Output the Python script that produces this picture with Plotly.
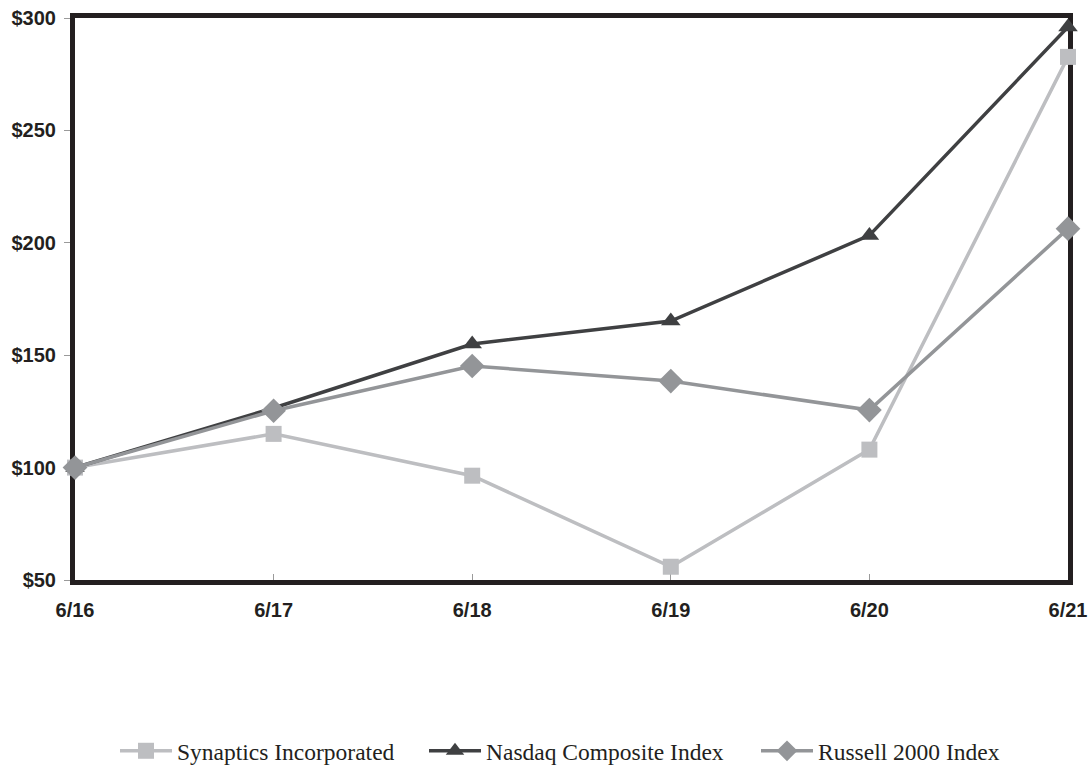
import plotly.graph_objects as go

# Fiscal year-end labels and cumulative total return values ($100 invested 6/16)
periods = ["6/16", "6/17", "6/18", "6/19", "6/20", "6/21"]
synaptics = [100.0, 115.0, 96.4, 55.9, 108.0, 282.7]
nasdaq = [100.0, 126.5, 155.0, 165.2, 203.3, 296.0]
russell = [100.0, 125.3, 145.2, 138.5, 125.6, 206.3]

y_ticks = [50, 100, 150, 200, 250, 300]
y_tick_text = ["$50", "$100", "$150", "$200", "$250", "$300"]

# name, values, colour, marker symbol, marker size, legend id, legend left edge (px)
series = [
    ("Synaptics Incorporated", synaptics, "#BDBEC1", "square", 16, "legend", 115),
    ("Nasdaq Composite Index", nasdaq, "#3F4042", "triangle-up", 17, "legend2", 424),
    ("Russell 2000 Index", russell, "#939598", "diamond", 19, "legend3", 756),
]

W, H = 1091, 773

fig = go.Figure()
legend_layouts = {}
for name, vals, color, symbol, msize, leg, left_px in series:
    fig.add_trace(go.Scatter(
        x=list(range(len(periods))),
        y=vals,
        name=name,
        mode="lines+markers",
        line=dict(color=color, width=3.5),
        marker=dict(symbol=symbol, size=msize, color=color),
        cliponaxis=False,
        legend=leg,
    ))
    legend_layouts[leg] = dict(
        orientation="h",
        xref="container",
        yref="container",
        x=left_px / W,
        xanchor="left",
        y=-0.007,
        yanchor="bottom",
        font=dict(family="Liberation Serif", size=23.5, color="#231F20"),
        itemwidth=52,
        bgcolor="rgba(0,0,0,0)",
    )

frame = "#231F20"
tick_font = dict(family="Liberation Sans", size=20, color="#231F20", weight="bold")
fig.update_layout(
    width=W,
    height=H,
    margin=dict(l=75, r=23, t=18, b=193, autoexpand=False),
    plot_bgcolor="white",
    paper_bgcolor="white",
    showlegend=True,
    xaxis=dict(
        range=[0, 5],
        tickmode="array",
        tickvals=list(range(len(periods))),
        ticktext=periods,
        showgrid=False,
        zeroline=False,
        showline=True,
        mirror=True,
        linecolor=frame,
        linewidth=5,
        ticks="inside",
        ticklen=6,
        tickcolor="#9A9A9A",
        tickwidth=1,
        layer="below traces",
        automargin=False,
        tickfont=tick_font,
        ticklabelstandoff=8,
    ),
    yaxis=dict(
        range=[50, 300],
        tickmode="array",
        tickvals=y_ticks,
        ticktext=y_tick_text,
        showgrid=False,
        zeroline=False,
        showline=True,
        mirror=True,
        linecolor=frame,
        linewidth=5,
        ticks="outside",
        ticklen=6,
        tickcolor="#9A9A9A",
        tickwidth=1,
        layer="below traces",
        automargin=False,
        tickfont=tick_font,
        ticklabelstandoff=4,
    ),
    **legend_layouts,
)

fig.write_html("out.html")
